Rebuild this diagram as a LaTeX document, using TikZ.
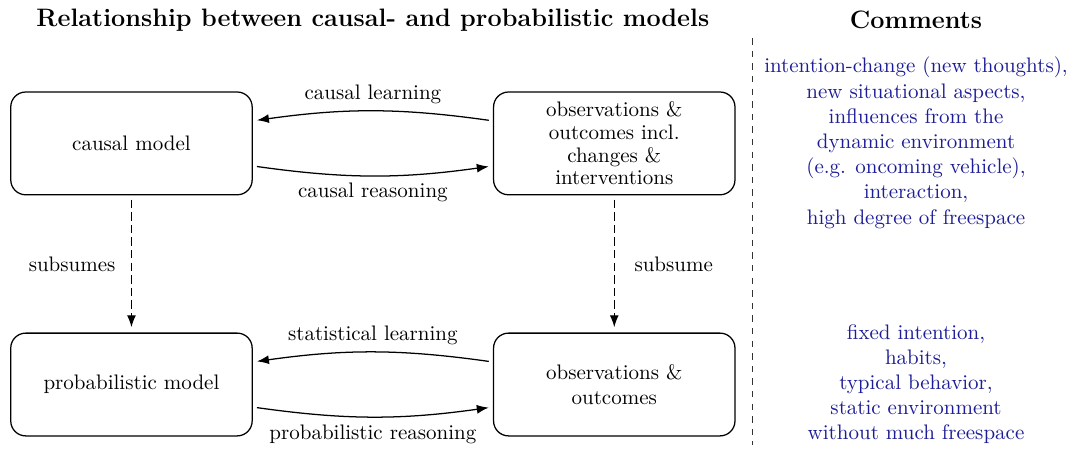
\documentclass[tikz,border=0pt]{standalone}
\usepackage{xcolor}
\usepackage{tikz}
\usetikzlibrary{arrows.meta, positioning}

\definecolor{commentblue}{RGB}{28,28,150}

\tikzset{
  modelbox/.style={draw, rounded corners=0.25cm, minimum width=4.04cm, minimum height=1.72cm, align=center, inner sep=1pt},
  relarrow/.style={-{Latex}, shorten <=2pt, shorten >=2pt, bend right=8},
  subarrow/.style={-{Latex}, dash pattern=on 4pt off 2pt, shorten <=2pt, shorten >=2.5pt},
  comment/.style={align=center, text=commentblue},
  heading/.style={font=\large\bfseries}
}

\begin{document}
\begin{tikzpicture}[semithick]
\useasboundingbox (0,0) rectangle (17.89,-7.515);

% Headings and separator
\node[heading] (title) at (6.24,-0.335) {Relationship between causal- and probabilistic models};
\node[heading] (commhead) at (15.33,-0.335) {Comments};
\draw[dashed, thin, black!80] (12.6,-0.64) -- (12.6,-7.45);

% Model boxes
\node[modelbox] (causal) at (2.2,-2.4) {causal model};
\node[modelbox, font=\linespread{0.9}\selectfont] (obsint) at (10.28,-2.4) {observations \&\\outcomes incl.\\changes \&\\interventions};
\node[modelbox] (prob) at (2.2,-6.435) {probabilistic model};
\node[modelbox] (obs) at (10.28,-6.435) {observations \&\\outcomes};

% Learning / reasoning arrows
\draw[relarrow] ([yshift=0.377cm]obsint.west) to node[above] {causal learning} ([yshift=0.377cm]causal.east);
\draw[relarrow] ([yshift=-0.377cm]causal.east) to node[below] {causal reasoning} ([yshift=-0.377cm]obsint.west);
\draw[relarrow] ([yshift=0.377cm]obs.west) to node[above] {statistical learning} ([yshift=0.377cm]prob.east);
\draw[relarrow] ([yshift=-0.377cm]prob.east) to node[below] {probabilistic reasoning} ([yshift=-0.377cm]obs.west);

% Subsumption
\draw[subarrow] (causal) -- node[left=4pt] {subsumes} (prob);
\draw[subarrow] (obsint) -- node[right=6pt] {subsume} (obs);

% Comments
\node[comment] (dyncomm) at (15.33,-2.39) {intention-change (new thoughts),\\new situational aspects,\\influences from the\\dynamic environment\\(e.g. oncoming vehicle),\\interaction,\\high degree of freespace};
\node[comment] (statcomm) at (15.33,-6.43) {fixed intention,\\habits,\\typical behavior,\\static environment\\without much freespace};

\end{tikzpicture}
\end{document}
